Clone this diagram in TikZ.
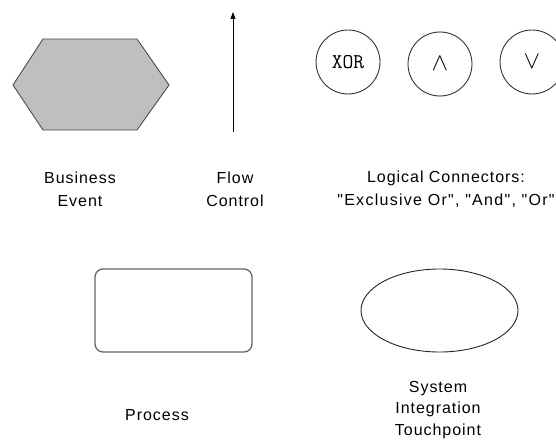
\documentclass[tikz,border=0pt]{standalone}
\usepackage{fontspec}
\setmainfont[LetterSpace=6,Ligatures=TeXOff]{Liberation Sans}
\usetikzlibrary{arrows.meta,shapes.geometric}
\begin{document}
\begin{tikzpicture}[x=1pt,y=-1pt,
  lbl/.style={align=center,font=\fontsize{16}{23}\selectfont,inner sep=0pt},
  conn/.style={circle,draw=black!80,line width=0.9pt,minimum size=64pt,inner sep=0pt},
  procbox/.style={draw=black!60,line width=1.3pt,rounded corners=8pt,minimum width=157pt,minimum height=83pt,inner sep=0pt},
  touch/.style={ellipse,draw=black!85,line width=0.9pt,minimum width=157pt,minimum height=83pt,inner sep=0pt}
]
\clip (0,0) rectangle (556,441);
\useasboundingbox (0,0) rectangle (556,441);
% Business event hexagon
\draw[draw=black!70,fill=black!25,line width=0.9pt]
  (13,85) -- (43,39) -- (137,39) -- (169,85) -- (137,130) -- (43,130) -- cycle;
\node[lbl] (be) at (80,189) {Business\\Event};
% Flow control arrow
\coordinate (fs) at (233,132);
\coordinate (fe) at (233,12);
\draw[line width=0.9pt,-{Triangle[length=7pt,width=5pt]}] (fs) -- (fe);
\node[lbl] (fc) at (235,189) {Flow\\Control};
% Logical connectors
\node[conn] (xor) at (348,62) {\ttfamily\fontsize{21}{21}\selectfont XOR};
\node[conn] (and) at (440,64) {\fontsize{24}{24}\selectfont$\wedge$};
\node[conn] (or) at (532,62) {\fontsize{26}{26}\selectfont$\vee$};
\node[lbl] (lc) at (446,189) {Logical Connectors:\\{\addfontfeatures{LetterSpace=8}"Exclusive Or", "And", "Or"}};
% Process
\node[procbox] (proc) at (173.5,310.5) {};
\node[lbl] (pl) at (157,415) {Process};
% System integration touchpoint
\node[touch] (sit) at (439.5,310.5) {};
\node[lbl,font=\fontsize{16}{21.5}\selectfont] (sl) at (438,410) {System\\Integration\\Touchpoint};
\end{tikzpicture}
\end{document}
